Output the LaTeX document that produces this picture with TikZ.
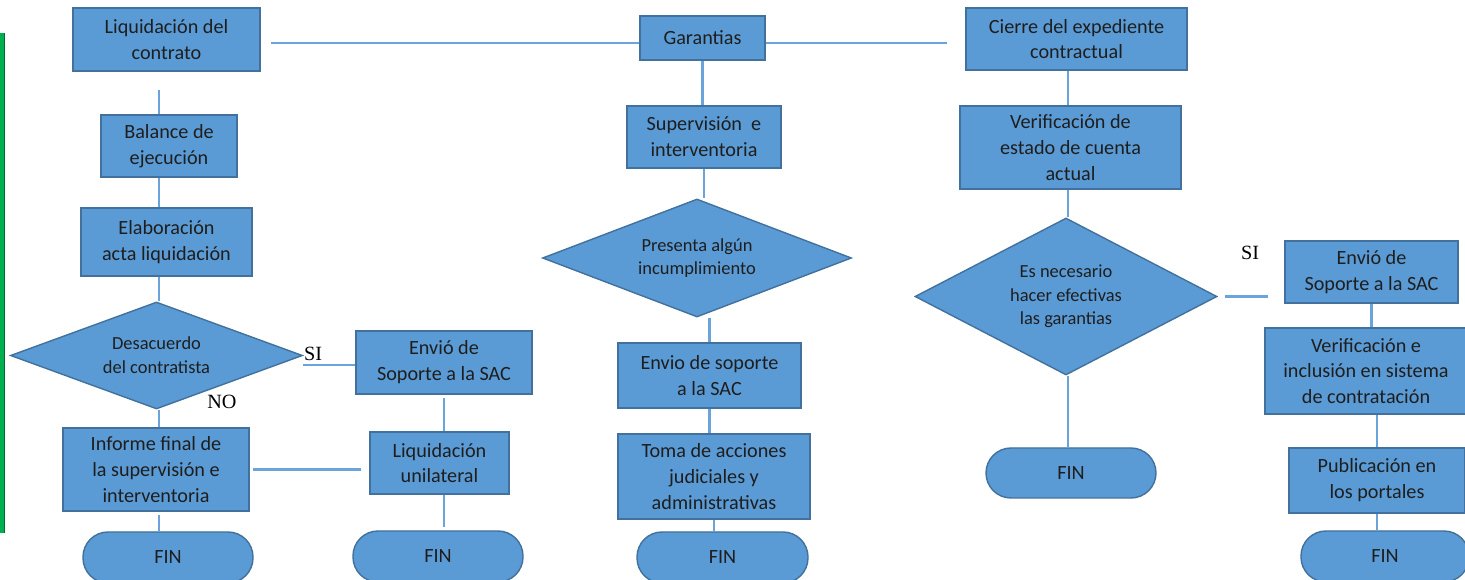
\documentclass[tikz,border=0pt]{standalone}
\usepackage{fontspec}
\setmainfont{Carlito}
\newfontfamily\answerfont{Liberation Serif}
\usetikzlibrary{positioning,shapes.geometric}
\definecolor{boxblue}{HTML}{5B9BD5}
\definecolor{boxedge}{HTML}{41719C}
\definecolor{linkblue}{HTML}{6AA4DA}
\definecolor{barGreen}{HTML}{00B050}
\definecolor{textdark}{HTML}{1E1E1E}
\newcommand{\pxu}{0.02cm}
\tikzstyle{every node}=[font=\fontsize{11.5}{14.7}\selectfont, text=textdark]
\tikzstyle{box}=[draw=boxedge, fill=boxblue, line width=0.8pt, inner sep=0pt, align=center]
\tikzstyle{decision}=[box, diamond, aspect=2, font=\fontsize{10.5}{13.5}\selectfont]
\tikzstyle{fin}=[box, rounded corners=0.5cm]
\tikzstyle{link}=[draw=linkblue, line width=1.2pt]
\tikzstyle{answer}=[font=\answerfont\fontsize{11.5}{13}\selectfont, text=black]
\tikzset{sz/.style 2 args={minimum width=#1*\pxu, minimum height=#2*\pxu}}

\begin{document}
\begin{tikzpicture}[x=0.02cm, y=-0.02cm]
  \useasboundingbox (0,0) rectangle (1465,580);

  % green bar at the edge
  \fill[barGreen] (0,33) rectangle (4,533);
  \draw[barGreen!60!black, line width=0.6pt] (4.5,33) -- (4.5,533);

  \coordinate (colA) at (159,0);
  \coordinate (colD) at (1068,0);
  \coordinate (toprow) at (0,43);
  \coordinate (sirow) at (0,365);

  % left column
  \node[box, sz={187}{63}] (liq) at (166.5,39.5) {Liquidación del\\contrato};
  \node[box, sz={136}{62}] (bal) at (169,146) {Balance de\\ejecución};
  \node[box, sz={171}{68}] (ela) at (166.5,242) {Elaboración\\acta liquidación};
  \node[decision, sz={292}{107}] (des) at (156.5,355.5) {Desacuerdo\\del contratista};
  \node[box, sz={186}{83}] (inf) at (156,469.5) {Informe final de\\la supervisión e\\interventoria};
  \node[fin, sz={170}{51}] (fin1) at (168,557.5) {FIN};
  \node[box, sz={176}{63}] (sac1) at (444,362.5) {Envió de\\Soporte a la SAC};
  \node[box, sz={139}{62}] (uni) at (439.5,463) {Liquidación\\unilateral};
  \node[fin, sz={170}{51}] (fin2) at (438,556.5) {FIN};
  \node[answer] (siA) at (313,354) {SI};
  \node[answer] (noA) at (222,402) {NO};

  \draw[link, shorten <=18*\pxu] (liq.south -| colA) -- (bal.north -| colA);
  \draw[link] (bal.south -| colA) -- (ela.north -| colA);
  \draw[link] (ela.south -| colA) -- (des.north -| colA);
  \draw[link] (des.south -| colA) -- (inf.north -| colA);
  \draw[link, shorten <=3*\pxu] (inf.south -| colA) -- (fin1.north -| colA);
  \draw[link] (des.east |- sirow) -- (sac1.west |- sirow);
  \draw[link, shorten <=3*\pxu] (sac1.south) -- (sac1.south |- uni.north);
  \draw[link, shorten >=3*\pxu] (uni.south -| sac1.south) -- (fin2.north -| sac1.south);
  \draw[link, shorten <=3*\pxu, shorten >=8*\pxu] (inf.east) -- (inf.east -| uni.west);

  % middle column
  \node[box, sz={125}{44}] (gar) at (702.5,38) {Garantias};
  \node[box, sz={154}{62}] (sup) at (704,137) {Supervisión \ e\\interventoria};
  \node[decision, sz={309}{118}] (pre) at (697,258) {Presenta algún\\incumplimiento};
  \node[box, sz={183}{65}] (env) at (709.5,375.5) {Envio de soporte\\a la SAC};
  \node[box, sz={192}{85}] (tom) at (714,476.5) {Toma de acciones\\judiciales y\\administrativas};
  \node[fin, sz={171}{51}] (fin3) at (722.5,557.5) {FIN};

  \draw[link, shorten <=10*\pxu] (liq.east |- toprow) -- (gar.west |- toprow);
  \draw[link] (gar.south) -- (gar.south |- sup.north);
  \draw[link] (sup.south) -- (sup.south |- pre.north);
  \draw[link] (pre.south -| env.north) -- (env.north);
  \draw[link] (env.south) -- (env.south |- tom.north);
  \draw[link] (tom.south) -- (tom.south |- fin3.north);

  % right column
  \node[box, sz={221}{62}] (cie) at (1076.5,39) {Cierre del expediente\\contractual};
  \node[box, sz={221}{83}] (ver) at (1070.5,147.5) {Verificación de\\estado de cuenta\\actual};
  \node[decision, sz={302}{157}] (nec) at (1066,296.5) {Es necesario\\hacer efectivas\\las garantias};
  \node[fin, sz={170}{50}] (fin4) at (1071,473) {FIN};
  \node[box, sz={173}{62}] (sac2) at (1371.5,272) {Envió de\\Soporte a la SAC};
  \node[box, sz={202}{86}] (vei) at (1366,371) {Verificación e\\inclusión en sistema\\de contratación};
  \node[box, sz={176}{65}] (pub) at (1377,480.5) {Publicación en\\los portales};
  \node[fin, sz={168}{51}] (fin5) at (1385,556.5) {FIN};
  \node[answer] (siB) at (1250,253) {SI};

  \draw[link, shorten >=18*\pxu] (gar.east |- toprow) -- (cie.west |- toprow);
  \draw[link] (cie.south -| colD) -- (ver.north -| colD);
  \draw[link] (ver.south -| colD) -- (nec.north -| colD);
  \draw[link] (nec.south -| colD) -- (fin4.north -| colD);
  \draw[link, shorten <=7*\pxu, shorten >=16*\pxu] (nec.east) -- (nec.east -| sac2.west);
  \draw[link] (sac2.south) -- (sac2.south |- vei.north);
  \draw[link] (vei.south -| pub.north) -- (pub.north);
  \draw[link] (pub.south) -- (pub.south |- fin5.north);
\end{tikzpicture}
\end{document}
